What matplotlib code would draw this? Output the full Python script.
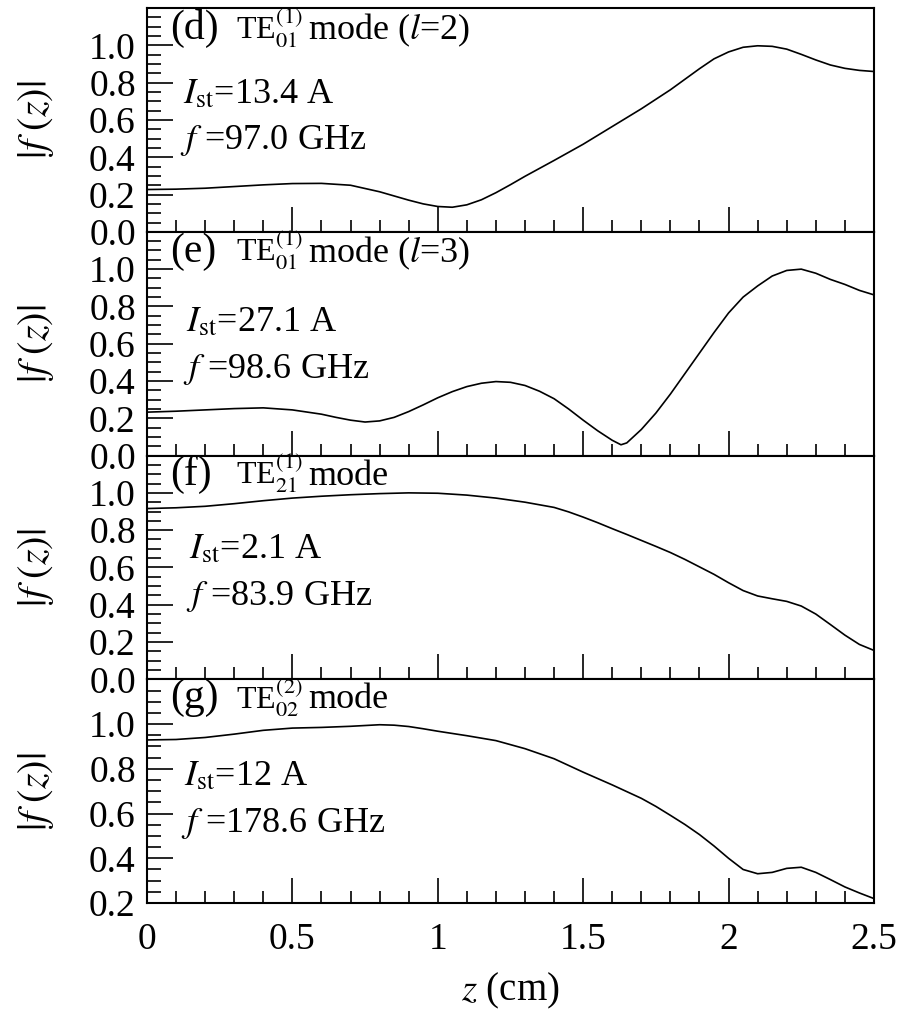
import numpy as np
import matplotlib
matplotlib.use("Agg")
import matplotlib.pyplot as plt
from matplotlib.ticker import MultipleLocator, FixedLocator, FormatStrFormatter

plt.rcParams['font.family'] = ['Liberation Serif', 'DejaVu Serif']
plt.rcParams['mathtext.fontset'] = 'stix'

# |f(z)|
z_d = [0.0, 0.1, 0.2, 0.3, 0.4, 0.5, 0.6, 0.7, 0.8, 0.9, 0.95, 1.0, 1.05, 1.1, 1.15, 1.2, 1.25,
       1.3, 1.4, 1.5, 1.6, 1.7, 1.8, 1.9, 1.95, 2.0, 2.05, 2.1, 2.15, 2.2, 2.25, 2.3, 2.35, 2.4, 2.45, 2.5]
f_d = [0.227, 0.229, 0.234, 0.243, 0.252, 0.259, 0.260, 0.250, 0.215, 0.170, 0.150, 0.136, 0.132, 0.145, 0.172, 0.210, 0.253,
       0.298, 0.383, 0.470, 0.565, 0.660, 0.762, 0.875, 0.928, 0.965, 0.990, 0.998, 0.995, 0.980, 0.952, 0.922, 0.895, 0.877, 0.866, 0.860]

z_e = [0.0, 0.1, 0.2, 0.3, 0.4, 0.5, 0.6, 0.65, 0.7, 0.75, 0.8, 0.85, 0.9, 0.95, 1.0, 1.05, 1.1, 1.15, 1.2,
       1.25, 1.3, 1.35, 1.4, 1.45, 1.5, 1.55, 1.6, 1.63, 1.65, 1.7, 1.75, 1.8, 1.85, 1.9, 1.95, 2.0,
       2.05, 2.1, 2.15, 2.2, 2.25, 2.3, 2.35, 2.4, 2.45, 2.5]
f_e = [0.233, 0.238, 0.245, 0.252, 0.256, 0.245, 0.222, 0.205, 0.190, 0.180, 0.186, 0.205, 0.236, 0.272, 0.310, 0.343, 0.370, 0.388, 0.397,
       0.393, 0.376, 0.345, 0.305, 0.250, 0.190, 0.133, 0.082, 0.058, 0.068, 0.140, 0.228, 0.330, 0.440, 0.550, 0.660, 0.765,
       0.850, 0.910, 0.963, 0.993, 1.0, 0.978, 0.945, 0.918, 0.886, 0.862]

z_f = [0.0, 0.1, 0.2, 0.3, 0.4, 0.5, 0.6, 0.7, 0.8, 0.9, 1.0, 1.1, 1.2, 1.3, 1.4, 1.45, 1.5, 1.55, 1.6, 1.65, 1.7,
       1.75, 1.8, 1.85, 1.9, 1.95, 2.0, 2.05, 2.1, 2.15, 2.2, 2.25, 2.3, 2.35, 2.4, 2.45, 2.5]
f_f = [0.916, 0.920, 0.928, 0.942, 0.958, 0.972, 0.982, 0.990, 0.996, 1.0, 0.998, 0.988, 0.972, 0.950, 0.922, 0.898, 0.870, 0.840, 0.808, 0.777, 0.745,
       0.713, 0.680, 0.643, 0.603, 0.563, 0.518, 0.476, 0.447, 0.432, 0.418, 0.393, 0.350, 0.294, 0.237, 0.187, 0.155]

z_g = [0.0, 0.1, 0.2, 0.3, 0.4, 0.5, 0.6, 0.7, 0.8, 0.85, 0.9, 0.95, 1.0, 1.1, 1.2, 1.3, 1.4, 1.5, 1.6, 1.7,
       1.75, 1.8, 1.85, 1.9, 1.95, 2.0, 2.05, 2.1, 2.15, 2.2, 2.25, 2.3, 2.35, 2.4, 2.45, 2.5]
f_g = [0.929, 0.931, 0.940, 0.955, 0.972, 0.982, 0.985, 0.990, 0.997, 0.995, 0.989, 0.979, 0.968, 0.948, 0.926, 0.890, 0.845, 0.785, 0.728, 0.668,
       0.632, 0.592, 0.551, 0.506, 0.455, 0.400, 0.350, 0.331, 0.337, 0.355, 0.360, 0.337, 0.305, 0.272, 0.245, 0.220]

tags = ["(d)", "(e)", "(f)", "(g)"]
modes = ["TE$_{01}^{(1)}$", "TE$_{01}^{(1)}$", "TE$_{21}^{(1)}$", "TE$_{02}^{(2)}$"]
mode_tail = ["mode ($l$=2)", "mode ($l$=3)", "mode", "mode"]
currents = ["13.4 A", "27.1 A", "2.1 A", "12 A"]
freqs = ["97.0 GHz", "98.6 GHz", "83.9 GHz", "178.6 GHz"]
y_bottom = [0.0, 0.0, 0.0, 0.2]
curves = [(z_d, f_d), (z_e, f_e), (z_f, f_f), (z_g, f_g)]

y_text = [(0.86, 0.575, 0.37), (0.865, 0.555, 0.345), (0.87, 0.54, 0.33), (0.87, 0.525, 0.318)]
x_text = [0.050, 0.053, 0.058, 0.051]

fig, axes = plt.subplots(4, 1, figsize=(9.14, 10.15), dpi=100, sharex=True)
fig.subplots_adjust(left=0.1608, right=0.9562, top=0.992, bottom=0.1103, hspace=0)

fs = 27
for i, ax in enumerate(axes):
    z, f = curves[i]
    ymin = y_bottom[i]
    ax.plot(z, f, color='black', lw=1.2)
    ax.set_xlim(0, 2.5)
    ax.set_ylim(ymin, 1.2)
    ax.yaxis.set_major_locator(FixedLocator(np.round(np.arange(ymin, 1.01, 0.2), 2)))
    ax.yaxis.set_minor_locator(MultipleLocator(0.05))
    ax.yaxis.set_major_formatter(FormatStrFormatter('%.1f'))
    ax.xaxis.set_major_locator(MultipleLocator(0.5))
    ax.xaxis.set_minor_locator(MultipleLocator(0.1))
    ax.tick_params(which='both', direction='in', top=False, right=False, labelsize=fs, width=1.2)
    ax.tick_params(axis='y', which='major', length=19, pad=8)
    ax.tick_params(axis='y', which='minor', length=10)
    ax.tick_params(axis='x', which='major', length=18, pad=14)
    ax.tick_params(axis='x', which='minor', length=9)
    for s in ax.spines.values():
        s.set_linewidth(1.5)
    ax.set_ylabel(r'$|f\ (z)|$', fontsize=29)
    ax.yaxis.set_label_coords(-0.125, 0.5)

    yt, yi, yf = y_text[i]
    ax.text(0.032, yt, tags[i], transform=ax.transAxes, fontsize=30, va='baseline')
    ax.text(0.122, yt, modes[i], transform=ax.transAxes, fontsize=23, va='baseline')
    ax.text(0.222, yt, mode_tail[i], transform=ax.transAxes, fontsize=26, va='baseline')
    ax.text(x_text[i], yi, r'$I_{\mathrm{st}}$=' + currents[i], transform=ax.transAxes, fontsize=26, va='baseline')
    ax.text(x_text[i] - 0.004, yf, r'$f$ =' + freqs[i], transform=ax.transAxes, fontsize=26, va='baseline')

axes[-1].set_xticks([0, 0.5, 1, 1.5, 2, 2.5])
axes[-1].set_xticklabels(['0', '0.5', '1', '1.5', '2', '2.5'])
axes[-1].set_xlabel(r'$z$ (cm)', fontsize=28, labelpad=10)

fig.savefig('out.png', dpi=100)
